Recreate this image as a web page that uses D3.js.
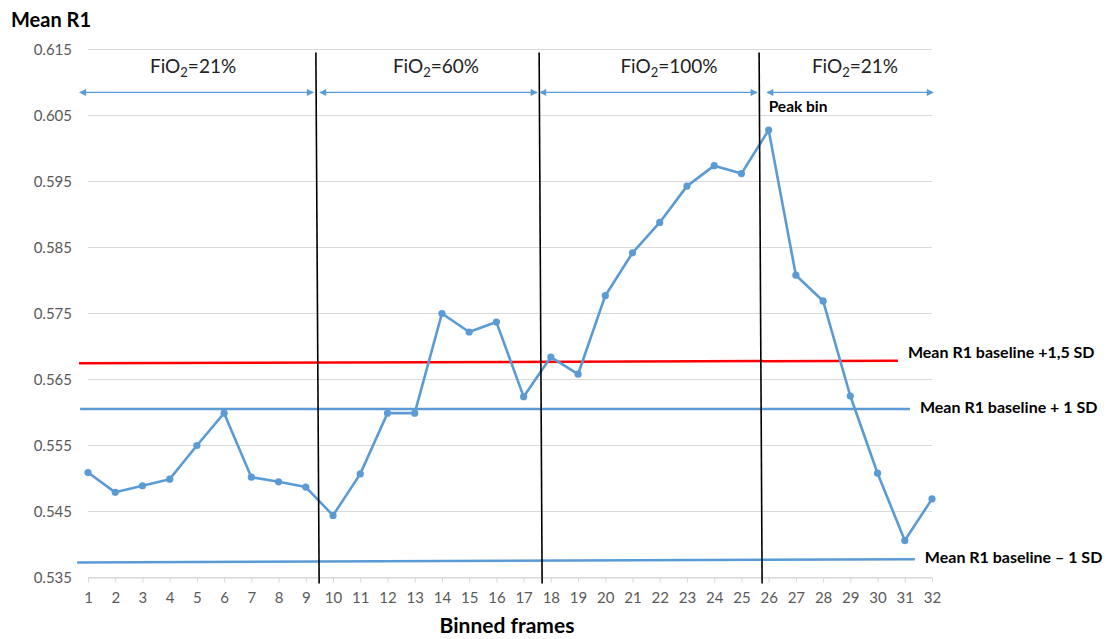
<!DOCTYPE html>
<html>
<head>
<meta charset="utf-8">
<script src="https://cdn.jsdelivr.net/npm/d3@7"></script>
<style>
  html, body { margin: 0; padding: 0; background: #fff; }
  svg { display: block; font-family: Lato, "Open Sans", sans-serif; }
</style>
</head>
<body>
<svg id="chart" width="1108" height="639"></svg>
<script>
// Binned frames and mean R1 per bin
const bins = [1,2,3,4,5,6,7,8,9,10,11,12,13,14,15,16,17,18,19,20,21,22,23,24,25,26,27,28,29,30,31,32];
const meanR1 = [0.5509,0.5479,0.5489,0.5499,0.5550,0.5599,0.5502,0.5495,0.5487,0.5444,
                0.5507,0.5599,0.5599,0.5750,0.5722,0.5737,0.5624,0.5684,0.5658,0.5777,
                0.5842,0.5888,0.5943,0.5974,0.5962,0.6028,0.5808,0.5769,0.5625,0.5508,
                0.5406,0.5469];
const yTicks = [0.535,0.545,0.555,0.565,0.575,0.585,0.595,0.605,0.615];

// Oxygen phases: label, arrow span (in bin units) and label centre
const phaseFiO2 = ["21%","60%","100%","21%"];
const phaseFrom = [0.70, 9.52, 17.60, 25.94];
const phaseTo = [9.27, 17.49, 25.57, 32.04];
const phaseLabelAt = [4.86, 13.78, 22.34, 29.17];
const phaseArrowLevel = 0.6085;
const phaseLabelLevel = 0.6115;

// Phase boundaries (bin units at top and bottom of the plot)
const boundaryTop = [9.37, 17.57, 25.65];
const boundaryBottom = [9.49, 17.68, 25.76];

// Baseline reference levels
const refNames = ["Mean R1 baseline +1,5 SD","Mean R1 baseline + 1 SD","Mean R1 baseline \u2013 1 SD"];
const refStartValue = [0.56745, 0.56053, 0.53727];
const refEndValue = [0.56785, 0.56053, 0.53776];
const refFrom = [0.67, 0.71, 0.60];
const refTo = [30.75, 31.19, 31.37];
const refColors = ["#ff0000", "#5b9bd5", "#5b9bd5"];

const peakLabel = "Peak bin";

const svg = d3.select("#chart");
const x = d3.scaleLinear().domain([1, 32]).range([88, 932]);
const y = d3.scaleLinear().domain([0.535, 0.615]).range([577.5, 49.5]);

// Gridlines
svg.append("g")
  .selectAll("line").data(yTicks).join("line")
  .attr("x1", x(1)).attr("x2", x(32))
  .attr("y1", d => y(d)).attr("y2", d => y(d))
  .attr("stroke", "#d9d9d9").attr("stroke-width", 1);

// Y tick labels
svg.append("g")
  .selectAll("text").data(yTicks).join("text")
  .attr("x", 72).attr("y", d => y(d)).attr("dy", "0.35em")
  .attr("text-anchor", "end")
  .attr("font-size", 15).attr("fill", "#595959")
  .text(d => d3.format(".3f")(d));

// X axis: ticks and bin labels
const xAxis = d3.axisBottom(x).tickValues(bins).tickSize(5).tickSizeOuter(0).tickPadding(10).tickFormat(d3.format("d"));
const gx = svg.append("g").attr("transform", `translate(0,${y(0.535)})`).call(xAxis);
gx.select(".domain").attr("stroke", "#d9d9d9");
gx.selectAll(".tick line").attr("stroke", "#d9d9d9");
gx.selectAll(".tick text").attr("font-size", 15).attr("fill", "#595959").attr("font-family", "Lato, 'Open Sans', sans-serif");

// Reference lines
svg.append("g")
  .selectAll("line").data(refNames).join("line")
  .attr("x1", (d, i) => x(refFrom[i])).attr("x2", (d, i) => x(refTo[i]))
  .attr("y1", (d, i) => y(refStartValue[i])).attr("y2", (d, i) => y(refEndValue[i]))
  .attr("stroke", (d, i) => refColors[i]).attr("stroke-width", 2.5);

svg.append("g")
  .selectAll("text").data(refNames).join("text")
  .attr("x", (d, i) => x(refTo[i]) + 10)
  .attr("y", (d, i) => y(refEndValue[i]) - (i === 0 ? 8 : 2))
  .attr("dy", "0.35em")
  .attr("font-size", 16).attr("font-weight", "bold").attr("fill", "#000")
  .text(d => d);

// Mean R1 series
svg.append("path")
  .datum(meanR1)
  .attr("fill", "none").attr("stroke", "#5b9bd5").attr("stroke-width", 2.6)
  .attr("stroke-linejoin", "round")
  .attr("d", d3.line().x((d, i) => x(bins[i])).y(d => y(d)));

svg.append("g")
  .selectAll("circle").data(meanR1).join("circle")
  .attr("cx", (d, i) => x(bins[i])).attr("cy", d => y(d))
  .attr("r", 3.6).attr("fill", "#5b9bd5");

// Phase boundaries
svg.append("g")
  .selectAll("line").data(boundaryTop).join("line")
  .attr("x1", d => x(d)).attr("x2", (d, i) => x(boundaryBottom[i]))
  .attr("y1", y(0.615) + 3).attr("y2", y(0.535) + 6)
  .attr("stroke", "#000").attr("stroke-width", 1.6);

// Phase arrows
const defs = svg.append("defs");
["end", "start"].forEach(k => {
  defs.append("marker")
    .attr("id", "arrow-" + k)
    .attr("viewBox", "0 0 10 10").attr("refX", k === "end" ? 9 : 1).attr("refY", 5)
    .attr("markerWidth", 8).attr("markerHeight", 7)
    .attr("markerUnits", "userSpaceOnUse")
    .attr("orient", "auto")
    .append("path")
    .attr("d", k === "end" ? "M0,0 L10,5 L0,10 Z" : "M10,0 L0,5 L10,10 Z")
    .attr("fill", "#5b9bd5");
});

svg.append("g")
  .selectAll("line").data(phaseFiO2).join("line")
  .attr("x1", (d, i) => x(phaseFrom[i])).attr("x2", (d, i) => x(phaseTo[i]))
  .attr("y1", y(phaseArrowLevel)).attr("y2", y(phaseArrowLevel))
  .attr("stroke", "#5b9bd5").attr("stroke-width", 1.2)
  .attr("marker-start", "url(#arrow-start)").attr("marker-end", "url(#arrow-end)");

const phaseText = svg.append("g")
  .selectAll("text").data(phaseFiO2).join("text")
  .attr("x", (d, i) => x(phaseLabelAt[i])).attr("y", y(phaseLabelLevel))
  .attr("text-anchor", "middle").attr("font-size", 19).attr("fill", "#222");
phaseText.append("tspan").text("FiO");
phaseText.append("tspan").attr("font-size", 13).attr("dy", 4).text("2");
phaseText.append("tspan").attr("dy", -4).text(d => "=" + d);

// Peak bin label
svg.append("text")
  .attr("x", x(26)).attr("y", y(0.6055))
  .attr("font-size", 15.5).attr("font-weight", "bold").attr("fill", "#000")
  .text(peakLabel);

// Axis titles
svg.append("text")
  .attr("x", 11).attr("y", 27)
  .attr("font-size", 20).attr("font-weight", "bold").attr("fill", "#000")
  .text("Mean R1");

svg.append("text")
  .attr("x", 507).attr("y", 633)
  .attr("text-anchor", "middle")
  .attr("font-size", 21).attr("font-weight", "bold").attr("fill", "#000")
  .text("Binned frames");
</script>
</body>
</html>
